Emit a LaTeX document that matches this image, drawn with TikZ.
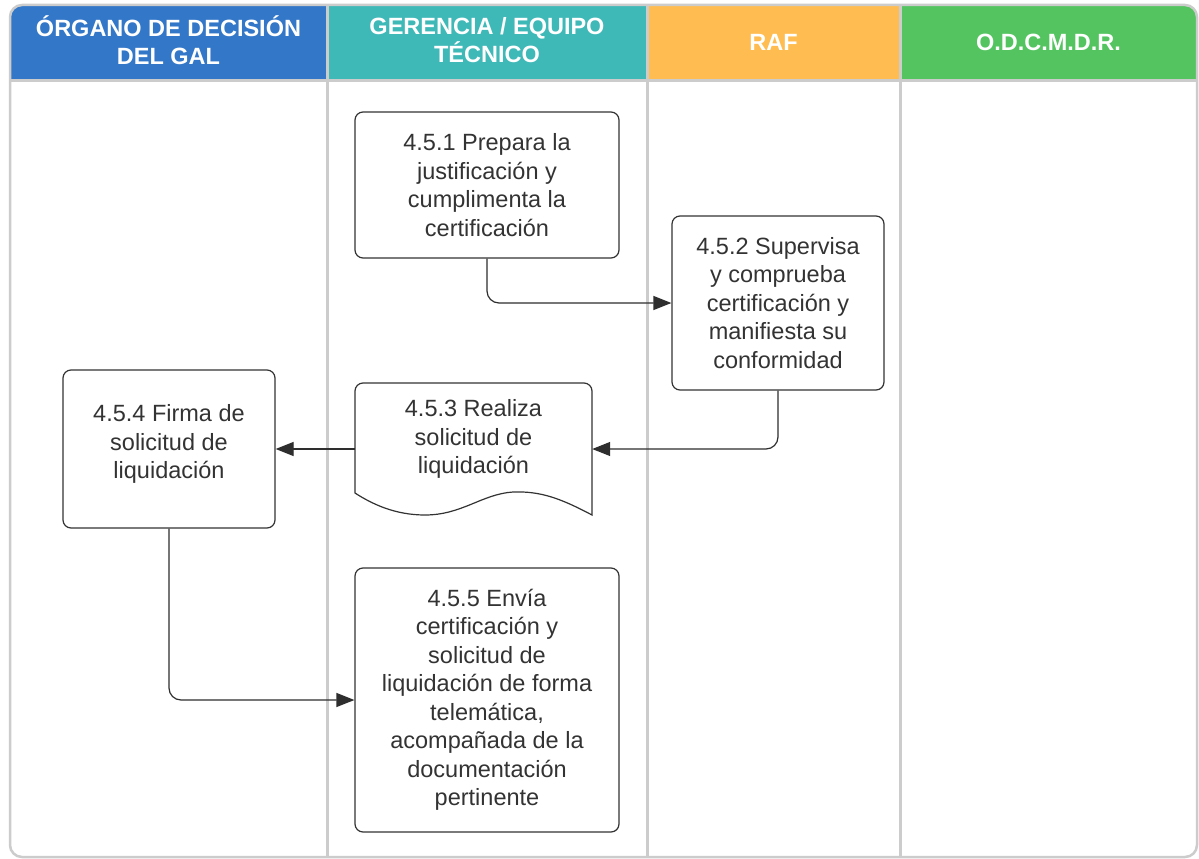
\documentclass[tikz,border=0pt]{standalone}
\usepackage{fontspec}
\setmainfont{Liberation Sans}
\usetikzlibrary{arrows.meta}
\definecolor{hblue}{RGB}{51,119,200}
\definecolor{hteal}{RGB}{63,184,184}
\definecolor{horange}{RGB}{255,188,80}
\definecolor{hgreen}{RGB}{84,196,96}
\definecolor{lanegray}{RGB}{204,204,204}
\definecolor{ink}{RGB}{51,51,51}
\tikzset{
  hdr/.style={text=white, font=\fontsize{23.5}{28}\selectfont\bfseries, align=center},
  procbox/.style={draw=ink, line width=1.2pt, rounded corners=8pt, fill=white, text=ink,
    font=\fontsize{23.5}{28.5}\selectfont, align=center, inner sep=0pt},
  arr/.style={draw=ink!90!black, line width=1.2pt, rounded corners=12pt,
    -{Triangle[length=18pt,width=14pt]}},
  lane/.style={draw=lanegray, line width=3pt}
}
\begin{document}
\begin{tikzpicture}[x=1pt,y=-1pt]
\useasboundingbox (0,0) rectangle (1199,859);
\fill[white] (0,0) rectangle (1199,859);
\begin{scope}
  \clip[rounded corners=12pt] (10,5) rectangle (1197,857);
  \fill[hblue] (10,5) rectangle (327,80);
  \fill[hteal] (327,5) rectangle (647,80);
  \fill[horange] (647,5) rectangle (900,80);
  \fill[hgreen] (900,5) rectangle (1197,80);
\end{scope}
\draw[lane] (10,80) -- (1197,80);
\draw[lane] (327,5) -- (327,857);
\draw[lane] (647,5) -- (647,857);
\draw[lane] (900,5) -- (900,857);
\draw[draw=lanegray, line width=2.5pt, rounded corners=12pt] (10,5) rectangle (1197,857);

\node[hdr] (h1) at (168.5,40) {ÓRGANO DE DECISIÓN\\DEL GAL};
\node[hdr] (h2) at (487,40) {GERENCIA / EQUIPO\\TÉCNICO};
\node[hdr] (h3) at (773.5,42) {RAF};
\node[hdr] (h4) at (1048.5,42) {O.D.C.M.D.R.};

\node[procbox, minimum width=264pt, minimum height=146pt] (n1) at (487,185)
  {4.5.1 Prepara la\\justificación y\\cumplimenta la\\certificación};
\node[procbox, minimum width=212pt, minimum height=174pt] (n2) at (778,303)
  {4.5.2 Supervisa\\y comprueba\\certificación y\\manifiesta su\\conformidad};
\node[minimum width=237pt, minimum height=132pt, inner sep=0pt] (n3) at (473.5,449) {};
\draw[draw=ink, line width=1.2pt, fill=white]
  (592,515) .. controls (560,498) and (540,491) .. (513,492)
  .. controls (482,494) and (462,515) .. (425,515)
  .. controls (395,515) and (372,504) .. (355,493)
  [rounded corners=8pt] -- (355,383) -- (592,383) [sharp corners] -- cycle;
\node[text=ink, font=\fontsize{23.5}{28.5}\selectfont, align=center] (t3) at (473.5,439)
  {4.5.3 Realiza\\solicitud de\\liquidación};
\node[procbox, minimum width=212pt, minimum height=158pt] (n4) at (169,449) {};
\node[text=ink, font=\fontsize{23.5}{28.5}\selectfont, align=center] (t4) at (169,444)
  {4.5.4 Firma de\\solicitud de\\liquidación};
\node[procbox, minimum width=264pt, minimum height=264pt] (n5) at (487,700)
  {4.5.5 Envía\\certificación y\\solicitud de\\liquidación de forma\\telemática,\\acompañada de la\\documentación\\pertinente};

\draw[arr] (n1.south) |- (n2.west);
\draw[arr] (n2.south) |- (n3.east);
\draw[arr] (n3.west) -- (n4.east);
\draw[arr] (n4.south) |- (n5.west);
\end{tikzpicture}
\end{document}
